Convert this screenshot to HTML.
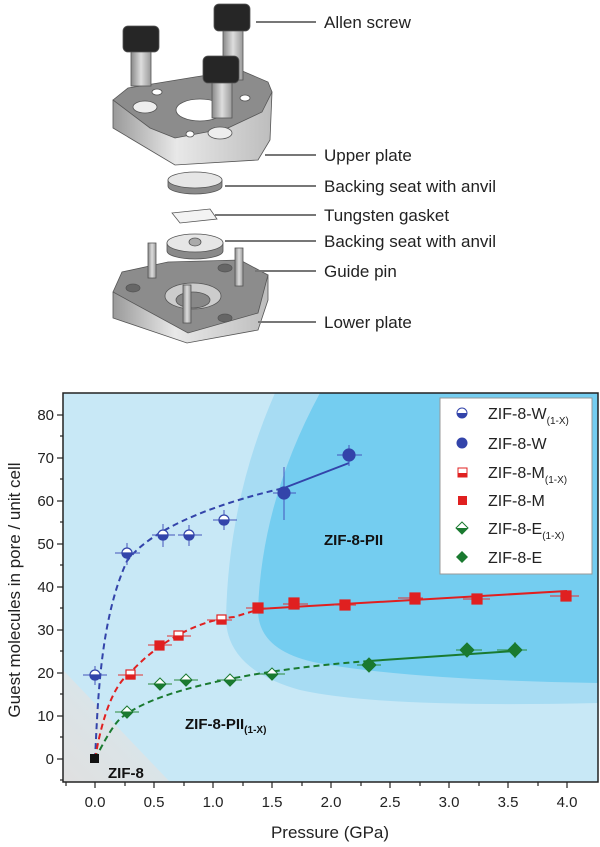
<!DOCTYPE html>
<html><head><meta charset="utf-8"><style>
html,body{margin:0;padding:0;background:#fff;}
svg{display:block;font-family:"Liberation Sans",sans-serif;}
</style></head><body>
<svg width="600" height="847" viewBox="0 0 600 847">
<defs>
<linearGradient id="side" x1="0" x2="1"><stop offset="0" stop-color="#9a9a9a"/><stop offset="0.4" stop-color="#e8e8e8"/><stop offset="1" stop-color="#bdbdbd"/></linearGradient>
<linearGradient id="shaft" x1="0" x2="1"><stop offset="0" stop-color="#888"/><stop offset="0.5" stop-color="#ddd"/><stop offset="1" stop-color="#999"/></linearGradient>
<linearGradient id="gray" x1="0" y1="1" x2="1" y2="0"><stop offset="0" stop-color="#e0e0e0"/><stop offset="1" stop-color="#d4e8f0"/></linearGradient>
<clipPath id="pc"><rect x="63" y="393" width="535" height="389"/></clipPath>
</defs>

<g stroke="#555" stroke-width="0.8">
<path d="M113,100 L113,128 L175,165 L258,160 L270,140 L272,92 Z" fill="url(#side)"/>
<path d="M113,100 L128,88 L195,77 L240,70 L268,82 L272,92 L262,112 L228,128 L175,138 L150,128 Z" fill="#8c8c8c"/>
<ellipse cx="200" cy="110" rx="24" ry="11" fill="#fff"/>
<ellipse cx="145" cy="107" rx="12" ry="6" fill="#eee"/>
<ellipse cx="220" cy="133" rx="12" ry="6" fill="#eee"/>
<ellipse cx="157" cy="92" rx="5" ry="3" fill="#fff"/>
<ellipse cx="245" cy="98" rx="5" ry="3" fill="#fff"/>
<ellipse cx="190" cy="134" rx="4" ry="3" fill="#fff"/>
<rect x="131" y="48" width="20" height="38" fill="url(#shaft)"/>
<rect x="123" y="26" width="36" height="26" rx="5" fill="#262626"/>
<rect x="223" y="28" width="20" height="52" fill="url(#shaft)"/>
<rect x="214" y="4" width="36" height="27" rx="5" fill="#262626"/>
<rect x="212" y="80" width="20" height="38" fill="url(#shaft)"/>
<rect x="203" y="56" width="36" height="27" rx="5" fill="#262626"/>
<path d="M168,180 L168,186 A27,8 0 0 0 222,186 L222,180 Z" fill="#8a8a8a"/>
<ellipse cx="195" cy="180" rx="27" ry="8" fill="#e6e6e6"/>
<path d="M172,213 L210,209 L217,219 L180,223 Z" fill="#f3f3f3"/>
<path d="M113,292 L113,318 L187,343 L258,330 L268,300 L268,275 Z" fill="url(#side)"/>
<path d="M113,292 L122,272 L168,262 L240,260 L268,275 L258,313 L188,333 Z" fill="#8c8c8c"/>
<ellipse cx="193" cy="296" rx="28" ry="13" fill="#ccc"/>
<ellipse cx="193" cy="300" rx="17" ry="8" fill="#888"/>
<ellipse cx="133" cy="288" rx="7" ry="4" fill="#666"/>
<ellipse cx="225" cy="318" rx="7" ry="4" fill="#666"/>
<ellipse cx="225" cy="268" rx="7" ry="4" fill="#666"/>
<rect x="148" y="243" width="8" height="35" fill="url(#shaft)"/>
<rect x="235" y="248" width="8" height="38" fill="url(#shaft)"/>
<rect x="183" y="285" width="8" height="38" fill="url(#shaft)"/>
<path d="M167,243 L167,251 A28,8 0 0 0 223,251 L223,243 Z" fill="#8a8a8a"/>
<ellipse cx="195" cy="243" rx="28" ry="9" fill="#e6e6e6"/>
<ellipse cx="195" cy="242" rx="6" ry="4" fill="#aaa"/>
</g>
<g stroke="#777" stroke-width="2">
<line x1="256" y1="22" x2="316" y2="22"/>
<line x1="265" y1="155" x2="316" y2="155"/>
<line x1="225" y1="186" x2="316" y2="186"/>
<line x1="215" y1="215" x2="316" y2="215"/>
<line x1="225" y1="241" x2="316" y2="241"/>
<line x1="255" y1="271" x2="316" y2="271"/>
<line x1="258" y1="322" x2="316" y2="322"/>
</g>
<g font-size="17" fill="#222">
<text x="324" y="28">Allen screw</text>
<text x="324" y="161">Upper plate</text>
<text x="324" y="192">Backing seat with anvil</text>
<text x="324" y="221">Tungsten gasket</text>
<text x="324" y="247">Backing seat with anvil</text>
<text x="324" y="277">Guide pin</text>
<text x="324" y="328">Lower plate</text>
</g>

<g clip-path="url(#pc)">
<rect x="63" y="393" width="535" height="389" fill="#c8e8f6"/>
<path d="M63,670 L63,782 L170,782 Z" fill="url(#gray)"/>
<path d="M275,393 L598,393 L598,703 Q380,708 300,690 Q228,670 226,620 Q228,500 275,393 Z" fill="#a7dcf3"/>
<path d="M320,393 L598,393 L598,683 Q420,680 330,665 Q258,655 258,610 Q262,500 320,393 Z" fill="#74cdf0"/>
</g>
<rect x="63" y="393" width="535" height="389" fill="none" stroke="#222" stroke-width="1.5"/>

<g stroke="#222" stroke-width="1.2">
<line x1="63" y1="415" x2="57" y2="415"/><line x1="63" y1="458" x2="57" y2="458"/><line x1="63" y1="501" x2="57" y2="501"/><line x1="63" y1="544" x2="57" y2="544"/><line x1="63" y1="587" x2="57" y2="587"/><line x1="63" y1="630" x2="57" y2="630"/><line x1="63" y1="673" x2="57" y2="673"/><line x1="63" y1="716" x2="57" y2="716"/><line x1="63" y1="759" x2="57" y2="759"/>
<line x1="63" y1="436" x2="60" y2="436"/><line x1="63" y1="479" x2="60" y2="479"/><line x1="63" y1="522" x2="60" y2="522"/><line x1="63" y1="565" x2="60" y2="565"/><line x1="63" y1="608" x2="60" y2="608"/><line x1="63" y1="651" x2="60" y2="651"/><line x1="63" y1="694" x2="60" y2="694"/><line x1="63" y1="737" x2="60" y2="737"/><line x1="63" y1="780" x2="60" y2="780"/>
<line x1="95" y1="782" x2="95" y2="788"/><line x1="154" y1="782" x2="154" y2="788"/><line x1="213" y1="782" x2="213" y2="788"/><line x1="272" y1="782" x2="272" y2="788"/><line x1="331" y1="782" x2="331" y2="788"/><line x1="390" y1="782" x2="390" y2="788"/><line x1="449" y1="782" x2="449" y2="788"/><line x1="508" y1="782" x2="508" y2="788"/><line x1="567" y1="782" x2="567" y2="788"/>
<line x1="66" y1="782" x2="66" y2="786"/><line x1="125" y1="782" x2="125" y2="786"/><line x1="184" y1="782" x2="184" y2="786"/><line x1="243" y1="782" x2="243" y2="786"/><line x1="302" y1="782" x2="302" y2="786"/><line x1="361" y1="782" x2="361" y2="786"/><line x1="420" y1="782" x2="420" y2="786"/><line x1="479" y1="782" x2="479" y2="786"/><line x1="538" y1="782" x2="538" y2="786"/>
</g>
<g font-size="15" fill="#222" text-anchor="end">
<text x="54" y="420">80</text><text x="54" y="463">70</text><text x="54" y="506">60</text><text x="54" y="549">50</text><text x="54" y="592">40</text><text x="54" y="635">30</text><text x="54" y="678">20</text><text x="54" y="721">10</text><text x="54" y="764">0</text>
</g>
<g font-size="15" fill="#222" text-anchor="middle">
<text x="95" y="807">0.0</text><text x="154" y="807">0.5</text><text x="213" y="807">1.0</text><text x="272" y="807">1.5</text><text x="331" y="807">2.0</text><text x="390" y="807">2.5</text><text x="449" y="807">3.0</text><text x="508" y="807">3.5</text><text x="567" y="807">4.0</text>
<text x="330" y="838" font-size="17">Pressure (GPa)</text>
<text transform="translate(20,590) rotate(-90)" font-size="17">Guest molecules in pore / unit cell</text>
</g>

<g fill="none" stroke-width="2">
<path d="M95,759 C98,700 100,620 127,561 C150,530 210,505 284,488" stroke="#3344aa" stroke-dasharray="6,4"/>
<path d="M284,488 L349,463" stroke="#3344aa"/>
<path d="M95,759 C105,700 120,680 130,673 C160,640 200,620 234,617 C250,612 255,611 258,609" stroke="#e02020" stroke-dasharray="6,4"/>
<path d="M258,609 L567,591" stroke="#e02020"/>
<path d="M95,759 C110,730 118,718 127,714 C160,690 250,670 369,661" stroke="#1a7a30" stroke-dasharray="6,4"/>
<path d="M369,661 L515,651" stroke="#1a7a30"/>
</g>

<g stroke-width="1" fill="none">
<g stroke="#4455bb">
<path d="M83,675 H107 M95,666 V685"/><path d="M115,553 H140 M127,543 V565"/><path d="M152,535 H175 M163,524 V547"/><path d="M178,535 H202 M189,525 V546"/><path d="M213,520 H237 M224,510 V530"/><path d="M273,493 H296 M284,467 V520"/><path d="M337,455 H362 M349,445 V466"/>
</g>
<g stroke="#e03030">
<path d="M118,675 H143 M148,645 H172 M167,636 H191 M207,620 H232 M246,608 H270 M283,604 H308 M334,605 H356 M398,598 H423 M463,599 H490 M550,596 H579"/>
</g>
<g stroke="#2a8a3a">
<path d="M115,712 H139 M148,684 H172 M174,680 H198 M217,680 H242 M259,674 H285 M357,665 H381 M456,650 H482 M497,650 H527 M515,642 V658"/>
</g>
</g>

<g>
<g stroke="#3344aa" stroke-width="1.2">
<circle cx="95" cy="675" r="5" fill="#fff"/><path d="M90,675 A5,5 0 0 0 100,675 Z" fill="#3344aa"/>
<circle cx="127" cy="553" r="5" fill="#fff"/><path d="M122,553 A5,5 0 0 0 132,553 Z" fill="#3344aa"/>
<circle cx="163" cy="535" r="5" fill="#fff"/><path d="M158,535 A5,5 0 0 0 168,535 Z" fill="#3344aa"/>
<circle cx="189" cy="535" r="5" fill="#fff"/><path d="M184,535 A5,5 0 0 0 194,535 Z" fill="#3344aa"/>
<circle cx="224" cy="520" r="5" fill="#fff"/><path d="M219,520 A5,5 0 0 0 229,520 Z" fill="#3344aa"/>
<circle cx="284" cy="493" r="6" fill="#3344aa"/><circle cx="349" cy="455" r="6" fill="#3344aa"/>
</g>
<g stroke="#e02020" stroke-width="1.2">
<rect x="126" y="670" width="9" height="9" fill="#fff"/><rect x="126" y="675" width="9" height="4" fill="#e02020"/>
<rect x="155" y="641" width="9" height="9" fill="#e02020"/>
<rect x="174" y="631" width="9" height="9" fill="#fff"/><rect x="174" y="636" width="9" height="4" fill="#e02020"/>
<rect x="217" y="615" width="9" height="9" fill="#fff"/><rect x="217" y="620" width="9" height="4" fill="#e02020"/>
<rect x="253" y="603" width="10" height="10" fill="#e02020"/><rect x="289" y="598" width="10" height="11" fill="#e02020"/><rect x="340" y="600" width="10" height="10" fill="#e02020"/><rect x="410" y="593" width="10" height="11" fill="#e02020"/><rect x="472" y="594" width="10" height="10" fill="#e02020"/><rect x="561" y="591" width="10" height="10" fill="#e02020"/>
</g>
<g stroke="#1a7a30" stroke-width="1">
<path d="M127,706 L133,712 L127,718 L121,712 Z" fill="#fff"/><path d="M121,712 L133,712 L127,718 Z" fill="#1a7a30"/>
<path d="M160,678 L166,684 L160,690 L154,684 Z" fill="#fff"/><path d="M154,684 L166,684 L160,690 Z" fill="#1a7a30"/>
<path d="M186,674 L192,680 L186,686 L180,680 Z" fill="#fff"/><path d="M180,680 L192,680 L186,686 Z" fill="#1a7a30"/>
<path d="M230,674 L236,680 L230,686 L224,680 Z" fill="#fff"/><path d="M224,680 L236,680 L230,686 Z" fill="#1a7a30"/>
<path d="M272,668 L278,674 L272,680 L266,674 Z" fill="#fff"/><path d="M266,674 L278,674 L272,680 Z" fill="#1a7a30"/>
<path d="M369,658 L376,665 L369,672 L362,665 Z" fill="#1a7a30"/>
<path d="M467,643 L474,650 L467,657 L460,650 Z" fill="#1a7a30"/>
<path d="M515,643 L522,650 L515,657 L508,650 Z" fill="#1a7a30"/>
</g>
<rect x="90" y="754" width="9" height="9" fill="#111"/>
</g>

<g font-weight="bold" fill="#111" font-size="15">
<text x="324" y="545">ZIF-8-PII</text>
<text x="185" y="729">ZIF-8-PII<tspan font-size="10" dy="4">(1-X)</tspan></text>
<text x="108" y="778">ZIF-8</text>
</g>

<rect x="440" y="398" width="152" height="176" fill="#fff" stroke="#999" stroke-width="1"/>
<g stroke-width="1">
<circle cx="462" cy="413" r="5" fill="#fff" stroke="#3344aa"/><path d="M457,413 A5,5 0 0 0 467,413 Z" fill="#3344aa"/>
<circle cx="462" cy="443" r="5.5" fill="#3344aa"/>
<rect x="458" y="468" width="9" height="9" fill="#fff" stroke="#e02020"/><rect x="458" y="473" width="9" height="4" fill="#e02020"/>
<rect x="458" y="496" width="9" height="9" fill="#e02020"/>
<path d="M462,522 L468,528 L462,534 L456,528 Z" fill="#fff" stroke="#1a7a30"/><path d="M456,528 L468,528 L462,534 Z" fill="#1a7a30"/>
<path d="M462,551 L468,557 L462,563 L456,557 Z" fill="#1a7a30"/>
</g>
<g font-size="16" fill="#222">
<text x="488" y="419">ZIF-8-W<tspan font-size="10" dy="5">(1-X)</tspan></text>
<text x="488" y="449">ZIF-8-W</text>
<text x="488" y="478">ZIF-8-M<tspan font-size="10" dy="5">(1-X)</tspan></text>
<text x="488" y="506">ZIF-8-M</text>
<text x="488" y="534">ZIF-8-E<tspan font-size="10" dy="5">(1-X)</tspan></text>
<text x="488" y="563">ZIF-8-E</text>
</g>
</svg>
</body></html>
